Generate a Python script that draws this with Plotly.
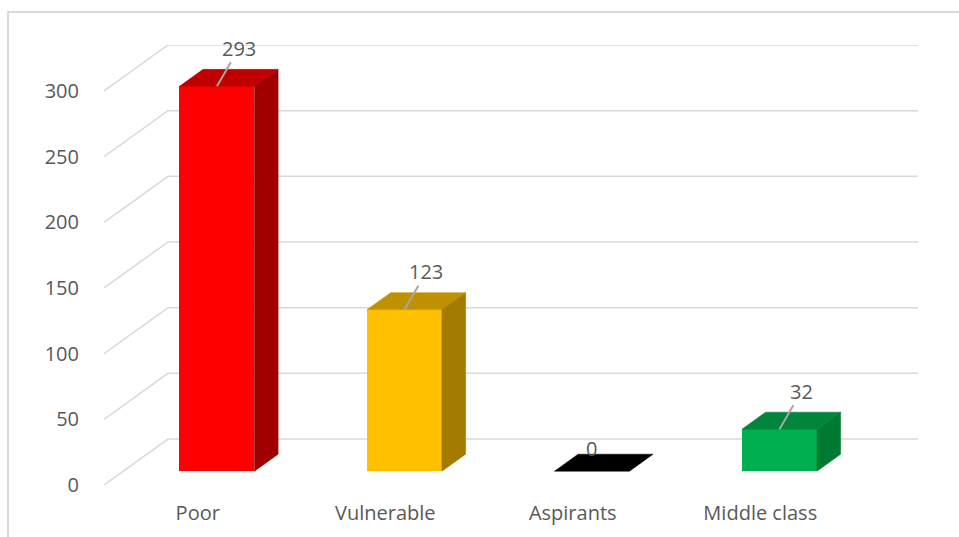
import plotly.graph_objects as go

# Data
categories = ["Poor", "Vulnerable", "Aspirants", "Middle class"]
values = [293, 123, 0, 32]
y_ticks = [0, 50, 100, 150, 200, 250, 300]

# Face colours: front, top, side
front_colors = ["#FF0000", "#FFC000", "#000000", "#00B050"]
top_colors = ["#C00000", "#BF9000", "#000000", "#00853C"]
side_colors = ["#A00000", "#A37B00", "#000000", "#007A33"]

# Oblique projection of the depth axis: full depth shifts x (category units) and y (value units)
DX = 0.3413
DY = 35.0
D_FRONT = 0.30   # bar front position along depth
D_BACK = 0.67    # bar back position along depth
HALF_W = 0.20    # half bar width in category units

GRID = "#D9D9D9"
TEXT = "#595959"
FONT = "Open Sans"

n = len(categories)
x_lo, x_hi = -0.5, n - 0.5

fig = go.Figure()

# Gridlines (below all traces): diagonal along the side wall, then along the back wall
for t in y_ticks:
    fig.add_shape(type="path", xref="x", yref="y", layer="below",
                  path=f"M {x_lo},{t} L {x_lo + DX},{t + DY} L {x_hi + DX},{t + DY}",
                  line=dict(color=GRID, width=1.5))

dd = D_BACK - D_FRONT
sx, sy = dd * DX, dd * DY
fx, fy = D_FRONT * DX, D_FRONT * DY

# Front faces
fig.add_trace(go.Bar(
    x=[i + fx for i in range(n)], y=values, base=fy, width=2 * HALF_W,
    marker=dict(color=front_colors, line=dict(width=0)),
    hoverinfo="skip", showlegend=False))

# Top and side faces
for i, v in enumerate(values):
    xl = i + fx - HALF_W
    xr = i + fx + HALF_W
    b = fy
    t = v + fy
    fig.add_trace(go.Scatter(
        x=[xl, xr, xr + sx, xl + sx, xl], y=[t, t, t + sy, t + sy, t],
        mode="lines", fill="toself", fillcolor=top_colors[i],
        line=dict(color=top_colors[i], width=0.5),
        hoverinfo="skip", showlegend=False))
    if v > 0:
        fig.add_trace(go.Scatter(
            x=[xr, xr, xr + sx, xr + sx, xr], y=[b, t, t + sy, b + sy, b],
            mode="lines", fill="toself", fillcolor=side_colors[i],
            line=dict(color=side_colors[i], width=0.5),
            hoverinfo="skip", showlegend=False))

# Value labels with leader lines
for i, v in enumerate(values):
    if v > 0:
        fig.add_annotation(
            x=i + fx, y=v + fy, text=str(v), showarrow=True,
            arrowhead=0, arrowwidth=2, arrowcolor="#A6A6A6",
            ax=22, ay=-38, standoff=0, borderpad=0,
            font=dict(family=FONT, size=20, color=TEXT))
    else:
        fig.add_annotation(
            x=i + fx, y=v + fy, text=str(v), showarrow=False, yshift=23,
            font=dict(family=FONT, size=20, color=TEXT))

# Chart area border
L, R, T, B = 104, 41, 45, 52
W, H = 959, 537
pw, ph = W - L - R, H - T - B
fig.add_shape(type="rect", xref="paper", yref="paper",
              x0=(8 - L) / pw, x1=(W + 10 - L) / pw,
              y0=-(H + 10 - (H - B)) / ph, y1=((H - B) - 12) / ph,
              line=dict(color=GRID, width=2), fillcolor="rgba(0,0,0,0)",
              layer="below")

fig.update_layout(
    width=W, height=H,
    margin=dict(l=L, r=R, t=T, b=B, autoexpand=False),
    paper_bgcolor="white", plot_bgcolor="white",
    font=dict(family=FONT, size=20, color=TEXT),
    bargap=0,
    xaxis=dict(range=[x_lo, x_hi + DX], tickvals=list(range(n)), ticktext=categories,
               showgrid=False, zeroline=False, showline=False, automargin=False,
               ticks="outside", ticklen=10, tickcolor="rgba(0,0,0,0)",
               tickfont=dict(family=FONT, size=20, color=TEXT), fixedrange=True),
    yaxis=dict(range=[0, 335], tickvals=y_ticks,
               showgrid=False, zeroline=False, showline=False, automargin=False,
               ticks="outside", ticklen=20, tickcolor="rgba(0,0,0,0)",
               tickfont=dict(family=FONT, size=20, color=TEXT), fixedrange=True),
)

fig.write_html("out.html")
